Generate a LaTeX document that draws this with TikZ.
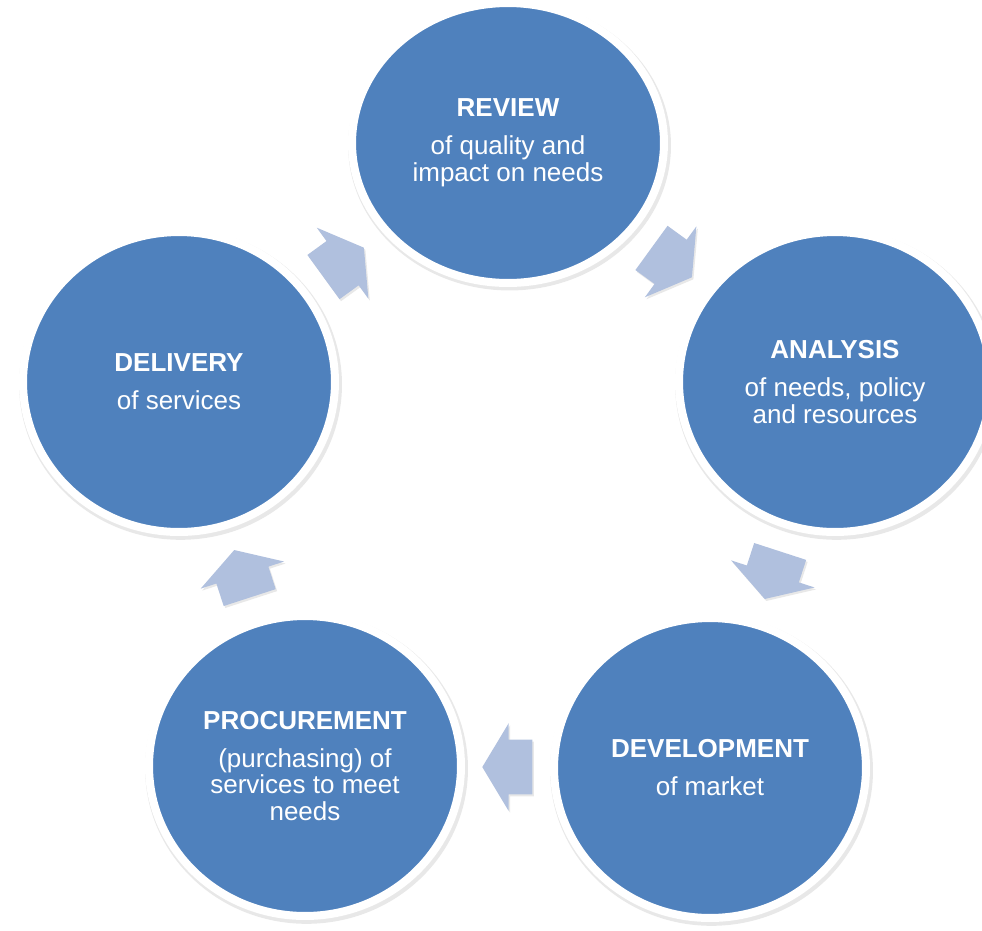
\documentclass[tikz,border=0pt]{standalone}
\usepackage{fontspec}
\setmainfont{Liberation Sans}
\usetikzlibrary{shapes.geometric,shapes.arrows,shadows,calc}

\definecolor{stageblue}{RGB}{79,129,189}
\definecolor{arrowblue}{RGB}{176,192,222}

\tikzset{
  stage/.style={ellipse, fill=stageblue, draw=white, line width=0.16cm,
    minimum width=6.24cm, minimum height=6.0cm, inner sep=0pt,
    text=white, align=center, font=\fontsize{14.8}{15.2}\selectfont,
    drop shadow={shadow xshift=0.03cm, shadow yshift=-0.05cm,
      shadow scale=1.035, opacity=0.18}},
  cyclearrow/.style={single arrow, fill=arrowblue, draw=none, rotate=#1,
    minimum height=1cm, text height=1.08cm, text depth=0pt,
    single arrow head extend=0.33cm, single arrow tip angle=118,
    inner sep=0pt, drop shadow={shadow xshift=0.03cm,
      shadow yshift=-0.04cm, opacity=0.18}}
}

\begin{document}
\begin{tikzpicture}[x=0.02cm, y=-0.02cm]
    \useasboundingbox (0,0) rectangle (982,930);
    \clip (0,0) rectangle (982,930);
    \node [stage, minimum height=5.6cm] (review)      at (508,143)
      {\textbf{REVIEW}\\[6.4pt]of quality and\\impact on needs};
    \node [stage]                       (analysis)    at (835,382)
      {\textbf{ANALYSIS}\\[6.4pt]of needs, policy\\and resources};
    \node [stage]                       (development) at (710,768)
      {\textbf{DEVELOPMENT}\\[6.4pt]of market};
    \node [stage]                       (procurement) at (305,766)
      {\textbf{PROCUREMENT}\\[6.4pt](purchasing) of\\services to meet\\needs};
    \node [stage]                       (delivery)    at (179,382)
      {\textbf{DELIVERY}\\[6.4pt]of services};

    \node [cyclearrow=36]   (a1) at ($(delivery)!0.5!(review)!0.16cm!(delivery)$) {};
    \node [cyclearrow=-36]  (a2) at ($(review)!0.5!(analysis)!0.16cm!(review)$) {};
    \node [cyclearrow=-108] (a3) at ($(analysis)!0.5!(development)!0.16cm!(analysis)$) {};
    \node [cyclearrow=180]  (a4) at ($(development)!0.5!(procurement)!0.16cm!(development)$) {};
    \node [cyclearrow=108]  (a5) at ($(procurement)!0.5!(delivery)!0.16cm!(procurement)$) {};
\end{tikzpicture}
\end{document}
